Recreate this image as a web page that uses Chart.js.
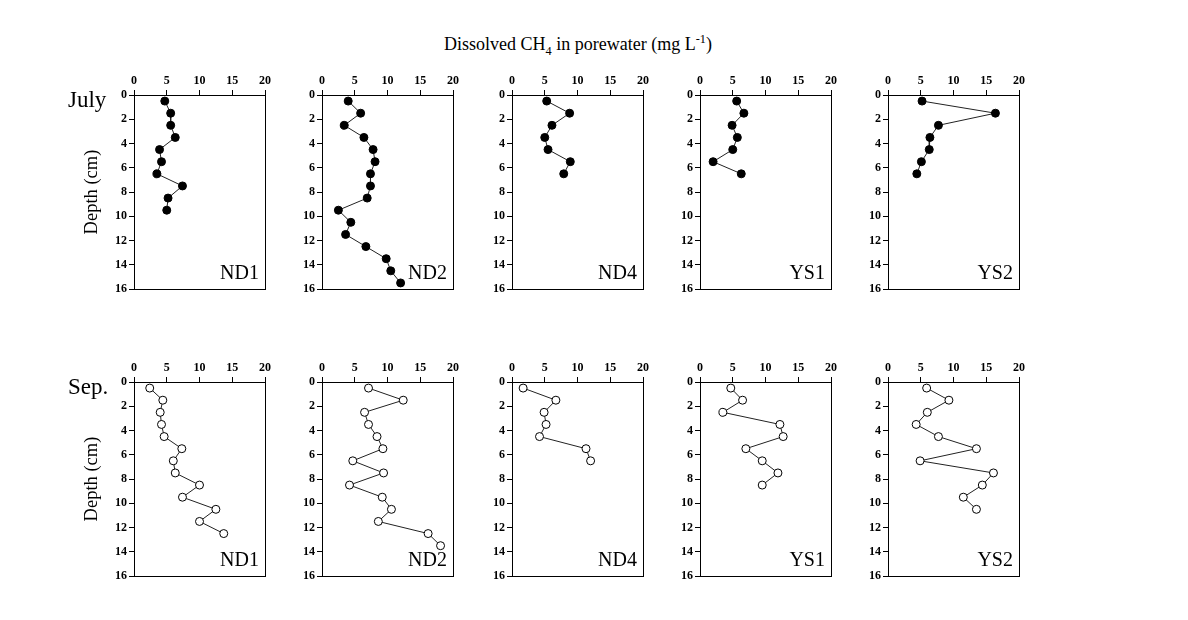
<!DOCTYPE html>
<html>
<head>
<meta charset="utf-8">
<script src="https://cdn.jsdelivr.net/npm/chart.js@4.4.1/dist/chart.umd.min.js"></script>
<style>
  body { margin: 0; background: #fff; width: 1188px; height: 620px; position: relative; overflow: hidden;
         font-family: "Liberation Serif", "Times New Roman", serif; color: #000; }
  canvas { position: absolute; }
  .lbl { position: absolute; white-space: nowrap; line-height: 1; }
  .lbl sub, .lbl sup { font-size: 0.68em; line-height: 0; }
</style>
</head>
<body>
<script>
// ─── Data ────────────────────────────────────────────────────────────────────

const depthCm = [0.5, 1.5, 2.5, 3.5, 4.5, 5.5, 6.5, 7.5, 8.5, 9.5, 10.5, 11.5, 12.5, 13.5, 14.5, 15.5];
const stations = ["ND1", "ND2", "ND4", "YS1", "YS2"];
const months = ["July", "Sep."];
const xTicks = [0, 5, 10, 15, 20];
const yTicks = [0, 2, 4, 6, 8, 10, 12, 14, 16];

// July (filled circles), mg L-1
const julyND1 = [4.7, 5.6, 5.6, 6.3, 3.9, 4.2, 3.5, 7.4, 5.2, 5.0];
const julyND2 = [4.0, 5.9, 3.4, 6.4, 7.8, 8.1, 7.4, 7.4, 6.9, 2.5, 4.4, 3.6, 6.7, 9.8, 10.5, 12.0];
const julyND4 = [5.3, 8.8, 6.1, 5.0, 5.5, 8.9, 7.9];
const julyYS1 = [5.6, 6.7, 4.9, 5.7, 5.0, 2.0, 6.3];
const julyYS2 = [5.2, 16.4, 7.7, 6.4, 6.3, 5.1, 4.4];

// September (open circles), mg L-1
const sepND1 = [2.4, 4.4, 4.0, 4.2, 4.6, 7.3, 6.0, 6.3, 10.0, 7.4, 12.5, 10.0, 13.7];
const sepND2 = [7.1, 12.4, 6.5, 7.1, 8.4, 9.3, 4.7, 9.4, 4.2, 9.2, 10.6, 8.6, 16.2, 18.1];
const sepND4 = [1.7, 6.7, 4.9, 5.2, 4.2, 11.3, 12.0];
const sepYS1 = [4.7, 6.5, 3.5, 12.2, 12.7, 7.0, 9.5, 11.9, 9.5];
const sepYS2 = [5.9, 9.3, 6.0, 4.3, 7.7, 13.5, 4.9, 16.1, 14.4, 11.5, 13.5];

const rows = [
  [julyND1, julyND2, julyND4, julyYS1, julyYS2],
  [sepND1, sepND2, sepND4, sepYS1, sepYS2],
];

// ─── Layout ──────────────────────────────────────────────────────────────────

const panelLeft = [134, 322, 512, 700, 888];
const rowTop = [95, 382];
const plotW = 131;
const plotH = 194;
const axisW = 40;   // room for y tick labels
const axisH = 30;   // room for x tick labels (top)
const padR = 10;
const padB = 12;

// place text so its baseline lands on y (line-height 1, Liberation Serif metrics)
function addText(html, x, baseline, size, align) {
  const el = document.createElement("div");
  el.className = "lbl";
  el.innerHTML = html;
  el.style.fontSize = size + "px";
  el.style.left = x + "px";
  el.style.top = baseline - 0.8375 * size + "px";
  if (align === "center") el.style.transform = "translateX(-50%)";
  if (align === "right") el.style.transform = "translateX(-100%)";
  document.body.appendChild(el);
  return el;
}

function addVertical(text, cx, cy, size) {
  const el = document.createElement("div");
  el.className = "lbl";
  el.textContent = text;
  el.style.fontSize = size + "px";
  el.style.left = cx + "px";
  el.style.top = cy + "px";
  el.style.transform = "translate(-50%, -50%) rotate(-90deg)";
  document.body.appendChild(el);
}

const framePlugin = {
  id: "frame",
  afterDraw(chart) {
    const { ctx, chartArea: a } = chart;
    ctx.save();
    ctx.strokeStyle = "#000";
    ctx.lineWidth = 1;
    ctx.strokeRect(Math.floor(a.left) + 0.5, Math.floor(a.top) + 0.5,
      Math.round(a.right - a.left), Math.round(a.bottom - a.top));
    ctx.restore();
  },
};

const tickFont = { family: "Liberation Serif", size: 12, weight: "bold" };

function makePanel(values, filled, left, top) {
  const cv = document.createElement("canvas");
  const w = axisW + plotW + padR;
  const h = axisH + plotH + padB;
  cv.width = w;
  cv.height = h;
  cv.style.left = left - axisW + "px";
  cv.style.top = top - axisH + "px";
  cv.style.width = w + "px";
  cv.style.height = h + "px";
  document.body.appendChild(cv);

  new Chart(cv.getContext("2d"), {
    type: "scatter",
    data: {
      datasets: [
        {
          data: values.map((v, i) => ({ x: v, y: depthCm[i] })),
          showLine: true,
          borderColor: "#222",
          borderWidth: 1,
          pointRadius: 4,
          pointBorderWidth: 1,
          pointBorderColor: "#000",
          pointBackgroundColor: filled ? "#000" : "#fff",
          clip: false,
        },
      ],
    },
    options: {
      responsive: false,
      devicePixelRatio: 1,
      animation: false,
      events: [],
      layout: { padding: { left: 0, top: 0, right: padR, bottom: padB } },
      plugins: { legend: { display: false }, tooltip: { enabled: false } },
      scales: {
        x: {
          type: "linear",
          position: "top",
          min: 0,
          max: 20,
          afterBuildTicks: (s) => { s.ticks = xTicks.map((v) => ({ value: v })); },
          afterFit: (s) => { s.height = axisH; },
          ticks: { font: tickFont, color: "#000", padding: 2, maxRotation: 0, autoSkip: false },
          grid: { drawOnChartArea: false, drawTicks: true, tickLength: 5, color: "#000" },
          border: { display: true, color: "#000", width: 1 },
        },
        y: {
          type: "linear",
          reverse: true,
          min: 0,
          max: 16,
          afterBuildTicks: (s) => { s.ticks = yTicks.map((v) => ({ value: v })); },
          afterFit: (s) => { s.width = axisW; },
          ticks: { font: tickFont, color: "#000", padding: 2, autoSkip: false },
          grid: { drawOnChartArea: false, drawTicks: true, tickLength: 5, color: "#000" },
          border: { display: true, color: "#000", width: 1 },
        },
      },
    },
    plugins: [framePlugin],
  });
}

// ─── Build ───────────────────────────────────────────────────────────────────

function build() {
  addText("Dissolved CH<sub>4</sub> in porewater (mg L<sup>-1</sup>)", 578, 50, 18, "center");

  rows.forEach((series, r) => {
    const top = rowTop[r];
    series.forEach((vals, c) => {
      makePanel(vals, r === 0, panelLeft[c], top);
      addText(stations[c], panelLeft[c] + plotW - 6, top + plotH - 10, 20, "right");
    });
    addText(months[r], 68, top + 12, 23);
    addVertical("Depth (cm)", 91, top + 97, 18.5);
  });
}

Promise.all([
  document.fonts.load("bold 12px 'Liberation Serif'"),
  document.fonts.load("20px 'Liberation Serif'"),
]).then(build, build);
</script>
</body>
</html>
